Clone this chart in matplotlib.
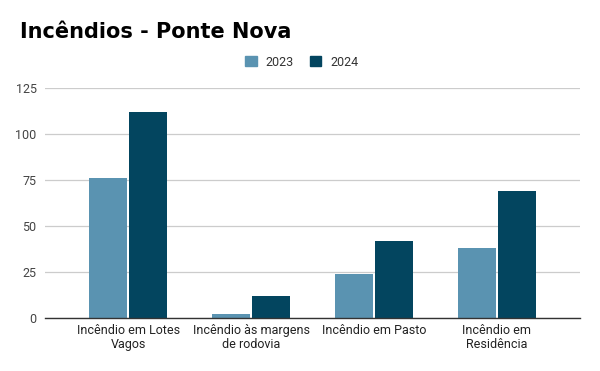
import numpy as np
import matplotlib.pyplot as plt
from matplotlib.patches import Patch

categories = ["Incêndio em Lotes\nVagos", "Incêndio às margens\nde rodovia",
              "Incêndio em Pasto", "Incêndio em\nResidência"]
years = ["2023", "2024"]
values_2023 = [76, 2, 24, 38]
values_2024 = [112, 12, 42, 69]
yticks = [0, 25, 50, 75, 100, 125]

colors = ["#5a93b1", "#03455f"]

plt.rcParams["font.family"] = ["Roboto", "DejaVu Sans"]

fig = plt.figure(figsize=(6, 3.71), dpi=100)
ax = fig.add_axes([45 / 600, 1 - 318 / 371, 535 / 600, 230 / 371])

x = np.arange(len(categories))
w = 0.31
off = 0.163
ax.bar(x - off, values_2023, width=w, color=colors[0], zorder=3)
ax.bar(x + off, values_2024, width=w, color=colors[1], zorder=3)

ax.set_xlim(-0.68, 3.68)
ax.set_ylim(0, 125)
ax.set_yticks(yticks)
ax.set_xticks(x)
ax.set_xticklabels(categories, fontsize=9, color="#222222", linespacing=1.1)
ax.tick_params(axis="y", labelsize=9, labelcolor="#444444", length=0, pad=6)
ax.tick_params(axis="x", length=0, pad=4.5)
ax.grid(axis="y", color="#cccccc", linewidth=0.9, zorder=0)
for s in ["top", "right", "left"]:
    ax.spines[s].set_visible(False)
ax.spines["bottom"].set_color("#333333")
ax.spines["bottom"].set_linewidth(1.0)
ax.spines["bottom"].set_zorder(4)

fig.text(20 / 600, 1 - 32 / 371, "Incêndios - Ponte Nova", fontsize=15,
         fontweight="heavy", family="DejaVu Sans", va="center", ha="left")

handles = [Patch(color=c) for c in colors]
fig.legend(handles, years, loc="center", bbox_to_anchor=(0.503, 1 - 62 / 371),
           ncol=2, frameon=False, fontsize=9, handlelength=0.9,
           handleheight=0.9, handletextpad=0.7, columnspacing=1.3,
           labelcolor="#333333")

fig.savefig("out.png", dpi=100)
